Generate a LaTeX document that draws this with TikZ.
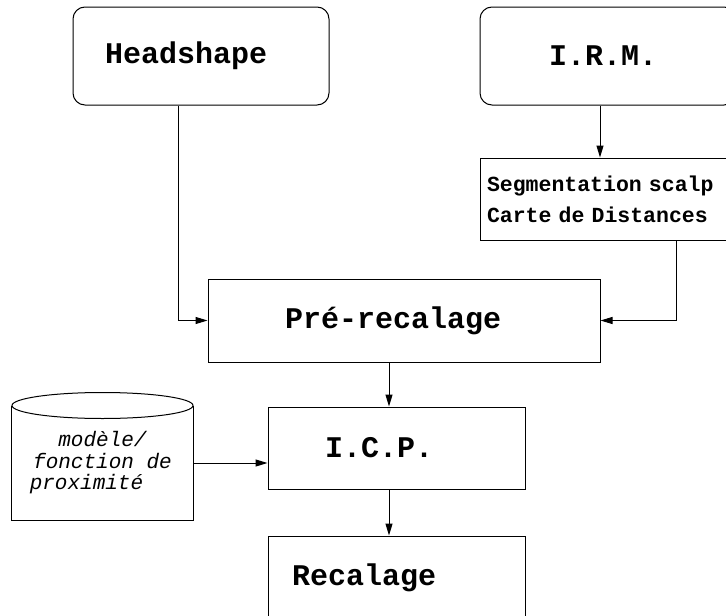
\documentclass[tikz,border=0pt]{standalone}
\usepackage{fontspec}
\setmonofont{Liberation Mono}
\usetikzlibrary{arrows.meta}
\tikzset{
  boite/.style={draw, line width=1pt, align=left, font=\ttfamily\bfseries\fontsize{30}{36}\selectfont},
  fleche/.style={line width=1pt, -{Triangle[length=12pt,width=7pt]}}
}
\begin{document}
\begin{tikzpicture}[x=1pt,y=-1pt]
\useasboundingbox (0,0) rectangle (726,616);
\begin{scope}[every path/.style={line width=1pt}]
\node[boite, rounded corners=12pt, inner xsep=32pt, text width=192pt, minimum height=98pt] (head) at (201,56) {Headshape};
\node[boite, rounded corners=12pt, inner xsep=69pt, text width=118pt, minimum height=98pt] (irm) at (608,56) {I.R.M.};
\node[boite, inner xsep=7pt, text width=242pt, minimum height=82pt,
  font=\ttfamily\bfseries\fontsize{21.5}{31}\selectfont] (seg) at (608,199) {Segmentation scalp\\Carte de Distances};
\node[boite, inner xsep=77pt, text width=238pt, minimum height=83pt] (pre) at (404,320.5) {Pré-recalage};
\node[boite, inner xsep=57pt, text width=143pt, minimum height=82pt] (icp) at (396.5,448) {I.C.P.};
\node[boite, inner xsep=24pt, text width=209pt, minimum height=84pt] (rec) at (396.5,578) {Recalage};
% cylindre du modele
\node[minimum width=181pt, minimum height=114pt, align=center,
  font=\ttfamily\itshape\fontsize{21}{21.5}\selectfont] (modele) at (102.5,463)
  {modèle/\\fonction de\\proximité\hspace*{32pt}};
\draw (modele.north west) -- (modele.south west) -- (modele.south east) -- (modele.north east);
\draw (modele.north) ellipse[x radius=90.5, y radius=13];
\draw[fleche] ([xshift=-23pt]head.south) |- (pre.west);
\draw[fleche] ([xshift=-8pt]irm.south) -- ([xshift=-8pt]irm.south |- seg.north);
\draw[fleche] ([xshift=68pt]seg.south) |- (pre.east);
\draw[fleche] ([xshift=-15pt]pre.south) -- ([xshift=-15pt]pre.south |- icp.north);
\draw[fleche] ([xshift=-7.5pt]icp.south) -- ([xshift=-7.5pt]icp.south |- rec.north);
\draw[fleche] (modele.east) -- (modele.east -| icp.west);
\end{scope}
\end{tikzpicture}
\end{document}
